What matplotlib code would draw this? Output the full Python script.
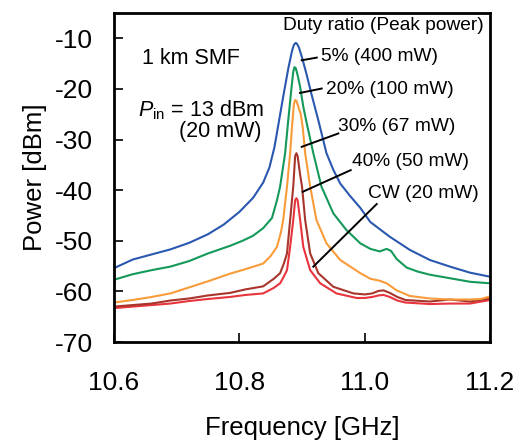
import matplotlib
matplotlib.use("Agg")
from matplotlib import pyplot as plt

plt.rcParams['font.family'] = 'Liberation Sans'
plt.rcParams['mathtext.fontset'] = 'custom'
plt.rcParams['mathtext.rm'] = 'Liberation Sans'
plt.rcParams['mathtext.it'] = 'Liberation Sans:italic'
plt.rcParams['axes.unicode_minus'] = False

############### spectra [GHz], [dBm]
f_5 = [10.600, 10.630, 10.660, 10.690, 10.720, 10.750, 10.775, 10.800, 10.822, 10.838,
       10.848, 10.856, 10.863, 10.870, 10.878, 10.884, 10.887, 10.890, 10.892, 10.895,
       10.900, 10.907, 10.915, 10.926, 10.939, 10.950, 10.961, 10.977, 10.993, 11.009,
       11.040, 11.072, 11.104, 11.136, 11.168, 11.200]
P_5 = [-55.4, -53.7, -52.7, -51.7, -50.4, -48.7, -46.8, -44.3, -41.5, -38.5,
       -35.5, -31.5, -26.5, -21.5, -16.0, -12.5, -11.3, -10.9, -11.1, -11.8,
       -13.8, -17.0, -21.0, -26.2, -32.7, -36.0, -38.7, -41.2, -43.5, -46.3,
       -49.2, -51.8, -53.8, -55.1, -56.3, -57.1]

f_20 = [10.600, 10.630, 10.660, 10.690, 10.720, 10.750, 10.785, 10.805, 10.822, 10.838,
        10.852, 10.860, 10.865, 10.869, 10.873, 10.878, 10.883, 10.886, 10.888, 10.890,
        10.893, 10.897, 10.902, 10.907, 10.918, 10.931, 10.950, 10.971, 10.993, 11.009,
        11.024, 11.035, 11.042, 11.051, 11.067, 11.085, 11.104, 11.136, 11.168, 11.200]
P_20 = [-57.7, -56.6, -55.8, -55.1, -54.0, -52.5, -51.0, -50.0, -49.0, -47.5,
        -45.5, -42.0, -39.3, -36.0, -32.7, -26.2, -20.0, -16.6, -15.7, -15.9,
        -17.3, -19.6, -23.5, -26.5, -32.7, -39.3, -44.6, -47.9, -50.5, -51.6,
        -52.1, -51.6, -52.0, -53.6, -55.3, -56.1, -56.7, -57.4, -58.1, -58.4]

f_30 = [10.600, 10.630, 10.660, 10.690, 10.720, 10.750, 10.785, 10.810, 10.838, 10.850,
        10.860, 10.866, 10.870, 10.876, 10.881, 10.884, 10.887, 10.889, 10.891, 10.894,
        10.898, 10.901, 10.905, 10.913, 10.923, 10.939, 10.961, 10.993, 11.009, 11.024,
        11.035, 11.051, 11.072, 11.104, 11.136, 11.168, 11.185, 11.200]
P_30 = [-62.2, -61.7, -61.1, -60.4, -59.2, -58.0, -56.5, -55.6, -54.5, -53.0,
        -51.2, -48.5, -45.9, -39.3, -32.7, -27.5, -23.0, -22.2, -22.3, -23.5,
        -25.0, -27.5, -32.7, -39.3, -45.9, -50.5, -53.8, -56.4, -57.5, -57.9,
        -58.4, -59.8, -60.9, -61.4, -61.6, -61.6, -61.5, -61.0]

f_40 = [10.600, 10.630, 10.660, 10.690, 10.720, 10.750, 10.785, 10.810, 10.838, 10.855,
        10.865, 10.871, 10.876, 10.881, 10.886, 10.889, 10.891, 10.893, 10.897, 10.900,
        10.905, 10.913, 10.926, 10.950, 10.982, 11.000, 11.012, 11.022, 11.030, 11.040,
        11.052, 11.065, 11.104, 11.136, 11.168, 11.200]
P_40 = [-63.0, -62.7, -62.4, -61.8, -61.4, -60.8, -60.3, -59.6, -59.0, -57.5,
        -56.4, -54.5, -52.5, -45.9, -39.3, -33.3, -32.7, -33.3, -37.0, -39.3,
        -45.9, -52.5, -56.4, -59.1, -60.4, -60.6, -60.4, -59.9, -59.8, -60.3,
        -61.1, -61.7, -62.0, -61.6, -62.0, -61.4]

f_cw = [10.600, 10.630, 10.660, 10.690, 10.720, 10.750, 10.785, 10.810, 10.838, 10.855,
        10.865, 10.870, 10.876, 10.881, 10.886, 10.889, 10.891, 10.893, 10.897, 10.902,
        10.913, 10.929, 10.955, 10.987, 11.000, 11.012, 11.022, 11.030, 11.040, 11.052,
        11.065, 11.104, 11.136, 11.168, 11.200]
P_cw = [-63.3, -63.0, -62.7, -62.4, -61.9, -61.5, -61.1, -60.7, -60.4, -59.3,
        -58.4, -57.3, -55.8, -51.2, -45.9, -42.0, -41.6, -42.0, -45.9, -51.2,
        -55.8, -58.4, -60.4, -61.3, -61.3, -61.1, -60.8, -60.7, -61.1, -61.8,
        -62.2, -62.5, -62.4, -62.4, -61.7]

labels = ['5% (400 mW)', '20% (100 mW)', '30% (67 mW)', '40% (50 mW)', 'CW (20 mW)']
###############

fig = plt.figure(figsize=(5.23, 4.44), dpi=100)
ax = fig.add_axes([0.218, 0.2297, 0.719, 0.741])

ax.plot(f_cw, P_cw, color='#e8343c', lw=1.5)
ax.plot(f_40, P_40, color='#a8352c', lw=1.5)
ax.plot(f_30, P_30, color='#f89c3a', lw=1.5)
ax.plot(f_20, P_20, color='#14995a', lw=1.5)
ax.plot(f_5, P_5, color='#2a58b0', lw=1.5)

ax.set_xlim(10.6, 11.2)
ax.set_ylim(-70, -5)
ax.set_xticks([10.6, 10.8, 11.0, 11.2])
ax.set_xticklabels(['10.6', '10.8', '11.0', '11.2'])
ax.set_yticks([-70, -60, -50, -40, -30, -20, -10])
ax.tick_params(direction='in', length=6.5, width=1.2, labelsize=19)
ax.tick_params(axis='x', pad=21)
ax.tick_params(axis='y', pad=15)
for s in ax.spines.values():
    s.set_linewidth(2)

ax.set_xlabel('Frequency [GHz]', fontsize=18.5, labelpad=15)
ax.set_ylabel('Power [dBm]', fontsize=18.5, labelpad=6)

# leader lines (from curve to label) and label positions
lead = [((10.8995, -14.34), (10.9235, -13.81), (10.9298, -13.55)),
        ((10.8968, -20.79), (10.9314, -19.92), (10.9383, -20.06)),
        ((10.8995, -31.44), (10.9579, -28.80), (10.9574, -27.36)),
        ((10.9011, -40.32), (10.9777, -36.04), (10.9793, -34.26)),
        ((10.9180, -55.11), (11.0192, -42.74), (11.0048, -40.63))]
for (a, b, t), lab in zip(lead, labels):
    ax.plot([a[0], b[0]], [a[1], b[1]], 'k', lw=1.4)
    ax.text(t[0], t[1], lab, fontsize=13.8, ha='left', va='center')

ax.text(10.8692, -7.44, 'Duty ratio (Peak power)', fontsize=13.8, ha='left', va='center')
ax.text(10.6442, -14.0, '1 km SMF', fontsize=15.5, ha='left', va='center')
ax.text(10.6388, -24.2, r'$P_{\mathrm{in}}$ = 13 dBm', fontsize=15.5, ha='left', va='center')
ax.text(10.7042, -28.5, '(20 mW)', fontsize=15.5, ha='left', va='center')

plt.savefig('out.png', dpi=100)
